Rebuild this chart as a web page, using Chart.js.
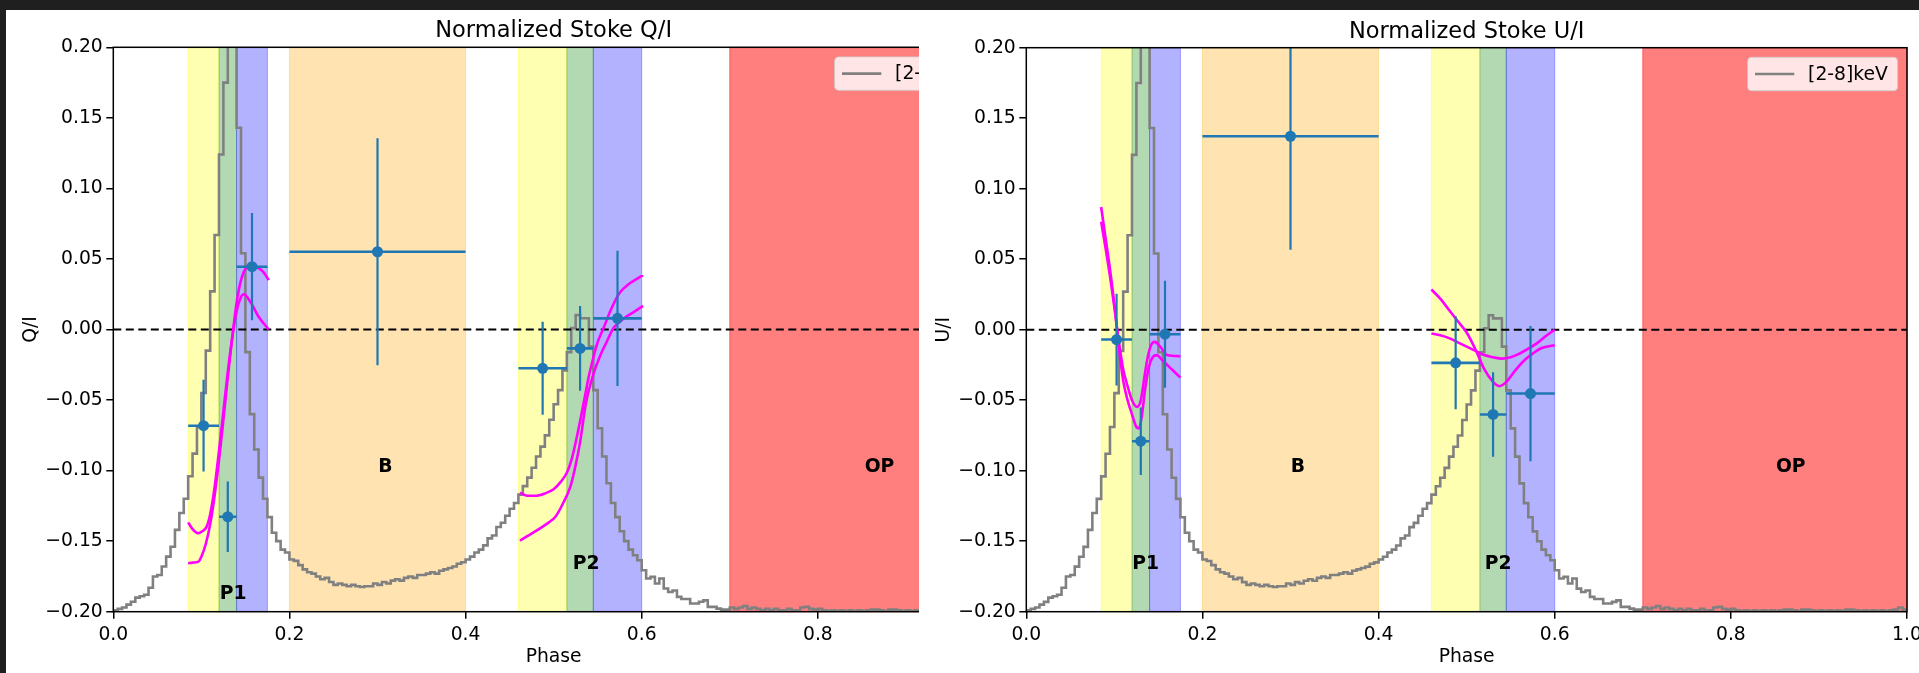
<!DOCTYPE html>
<html>
<head>
<meta charset="utf-8">
<script src="https://cdn.jsdelivr.net/npm/chart.js@4.4.1/dist/chart.umd.min.js"></script>
<style>
html, body { margin: 0; padding: 0; background: #1f1f1f; width: 1919px; height: 673px; overflow: hidden; }
.fig { position: absolute; top: 10px; height: 663px; overflow: hidden; background: #fff; }
#figQ { left: 6px; width: 913px; }
#figU { left: 919px; width: 1000px; }
canvas { position: absolute; left: 0; top: 0; }
</style>
</head>
<body>
<div class="fig" id="figQ"><canvas id="chartQ" width="1080" height="663"></canvas></div>
<div class="fig" id="figU"><canvas id="chartU" width="1080" height="663"></canvas></div>
<script>
// pulse profile [2-8] keV, 200 bins of 0.005 in phase, scaled to the Stokes axis
const binWidth = 0.005;
const profile = [
  -0.199, -0.198, -0.197, -0.195, -0.193, -0.190, -0.189, -0.188, -0.183, -0.175,
  -0.174, -0.168, -0.161, -0.154, -0.142, -0.130, -0.120, -0.104, -0.088, -0.069,
  -0.045, -0.015, 0.027, 0.067, 0.124, 0.175, 0.26, 0.24, 0.143, 0.054,
  -0.016, -0.060, -0.085, -0.105, -0.120, -0.133, -0.144, -0.150, -0.156, -0.158,
  -0.163, -0.164, -0.167, -0.170, -0.172, -0.173, -0.175, -0.177, -0.176, -0.179,
  -0.181, -0.180, -0.181, -0.182, -0.181, -0.182, -0.1825, -0.182, -0.182, -0.180,
  -0.181, -0.179, -0.180, -0.178, -0.177, -0.178, -0.176, -0.175, -0.176, -0.174,
  -0.174, -0.173, -0.172, -0.173, -0.171, -0.170, -0.169, -0.168, -0.166, -0.165,
  -0.163, -0.161, -0.158, -0.156, -0.153, -0.148, -0.146, -0.140, -0.137, -0.132,
  -0.127, -0.123, -0.117, -0.111, -0.105, -0.098, -0.090, -0.083, -0.075, -0.064,
  -0.053, -0.043, -0.029, -0.016, 0.001, 0.0103, 0.008, 0.008, -0.012, -0.043,
  -0.070, -0.090, -0.109, -0.123, -0.133, -0.143, -0.150, -0.156, -0.160, -0.1635,
  -0.1706, -0.1765, -0.1753, -0.180, -0.1765, -0.1836, -0.186, -0.185, -0.1895, -0.191,
  -0.191, -0.1942, -0.1942, -0.193, -0.192, -0.1966, -0.1966, -0.1978, -0.1985, -0.1985,
  -0.197, -0.198, -0.197, -0.196, -0.198, -0.197, -0.198, -0.199, -0.198, -0.199,
  -0.198, -0.199, -0.199, -0.198, -0.199, -0.199, -0.197, -0.1965, -0.198, -0.1985,
  -0.198, -0.199, -0.1995, -0.199, -0.1995, -0.199, -0.1995, -0.199, -0.1995, -0.199,
  -0.1995, -0.199, -0.1985, -0.1985, -0.199, -0.1995, -0.1985, -0.1985, -0.199, -0.1995,
  -0.199, -0.1995, -0.199, -0.1995, -0.199, -0.1995, -0.1985, -0.1985, -0.199, -0.1995,
  -0.199, -0.1995, -0.199, -0.1995, -0.199, -0.1995, -0.199, -0.1985, -0.197, -0.1985
];

// phase intervals: P1 (rise, peak, fall), B, P2 (rise, peak, fall), OP
const bandStart = [0.085, 0.12, 0.14, 0.2, 0.46, 0.515, 0.545, 0.7];
const bandEnd   = [0.12, 0.14, 0.175, 0.4, 0.515, 0.545, 0.6, 1.0];
const bandColor = ['rgba(255,255,0,0.3)', 'rgba(0,128,0,0.3)', 'rgba(0,0,255,0.3)', 'rgba(255,165,0,0.3)',
                   'rgba(255,255,0,0.3)', 'rgba(0,128,0,0.3)', 'rgba(0,0,255,0.3)', 'rgba(255,0,0,0.5)'];

// measured Stokes parameters per interval
const binPhase = [0.1025, 0.13, 0.1575, 0.30, 0.4875, 0.53, 0.5725];
const binHalf  = [0.0175, 0.01, 0.0175, 0.10, 0.0275, 0.015, 0.0275];
const qVal = [-0.0682, -0.1327, 0.0445, 0.0551, -0.0275, -0.0134, 0.0079];
const qErr = [0.0325, 0.025, 0.038, 0.0805, 0.033, 0.030, 0.048];
const uVal = [-0.0070, -0.0791, -0.0032, 0.1372, -0.0235, -0.0601, -0.0453];
const uErr = [0.0325, 0.024, 0.038, 0.0805, 0.033, 0.030, 0.048];

// model curves (magenta)
const qFitAx = [0.085, 0.09, 0.096, 0.101, 0.106, 0.11, 0.115, 0.12, 0.125, 0.13, 0.135, 0.14, 0.145, 0.148, 0.152, 0.158, 0.165, 0.1765];
const qFitA  = [-0.1367, -0.1415, -0.1444, -0.143, -0.1397, -0.131, -0.112, -0.086, -0.058, -0.03, -0.006, 0.013, 0.023, 0.025, 0.023, 0.017, 0.009, 0.0];
const qFitBx = [0.085, 0.09, 0.0968, 0.1, 0.105, 0.11, 0.115, 0.12, 0.125, 0.13, 0.135, 0.14, 0.145, 0.15, 0.1575, 0.165, 0.17, 0.1765];
const qFitB  = [-0.1657, -0.1652, -0.1645, -0.161, -0.152, -0.138, -0.118, -0.093, -0.064, -0.034, -0.006, 0.019, 0.035, 0.043, 0.0457, 0.0435, 0.041, 0.035];
const qFitCx = [0.4618, 0.47, 0.48, 0.49, 0.5, 0.508, 0.515, 0.52, 0.525, 0.53, 0.535, 0.54, 0.545, 0.55, 0.556, 0.565, 0.575, 0.585, 0.595, 0.6015];
const qFitC  = [-0.1157, -0.1178, -0.1178, -0.1162, -0.1132, -0.108, -0.1015, -0.093, -0.08, -0.065, -0.049, -0.033, -0.02, -0.009, 0.0, 0.014, 0.026, 0.032, 0.036, 0.0386];
const qFitDx = [0.4618, 0.47, 0.4845, 0.495, 0.502, 0.51, 0.519, 0.525, 0.53, 0.5367, 0.545, 0.554, 0.56, 0.568, 0.58, 0.59, 0.6015];
const qFitD  = [-0.1497, -0.1465, -0.1409, -0.1365, -0.1327, -0.124, -0.1114, -0.096, -0.08, -0.0523, -0.032, -0.0169, -0.009, 0.001, 0.008, 0.012, 0.0167];

const uFitEx = [0.085, 0.09, 0.095, 0.1, 0.105, 0.11, 0.115, 0.12, 0.125, 0.128, 0.131, 0.135, 0.139, 0.143, 0.148, 0.155, 0.165, 0.175];
const uFitE  = [0.087, 0.065, 0.043, 0.018, -0.012, -0.036, -0.05, -0.06, -0.069, -0.070, -0.062, -0.042, -0.027, -0.02, -0.018, -0.022, -0.028, -0.034];
const uFitFx = [0.085, 0.09, 0.095, 0.1, 0.105, 0.11, 0.115, 0.12, 0.1256, 0.13, 0.134, 0.138, 0.142, 0.146, 0.152, 0.16, 0.175];
const uFitF  = [0.0765, 0.058, 0.038, 0.016, -0.008, -0.028, -0.04, -0.05, -0.0547, -0.05, -0.034, -0.019, -0.0105, -0.0086, -0.012, -0.018, -0.0188];
const uFitGx = [0.46, 0.47, 0.48, 0.49, 0.5, 0.51, 0.52, 0.53, 0.54, 0.55, 0.56, 0.57, 0.58, 0.59, 0.6];
const uFitG  = [-0.0027, -0.004, -0.006, -0.009, -0.012, -0.015, -0.018, -0.0195, -0.0205, -0.0195, -0.017, -0.0135, -0.0095, -0.0045, 0.0];
const uFitHx = [0.46, 0.47, 0.48, 0.49, 0.5, 0.51, 0.52, 0.53, 0.537, 0.545, 0.555, 0.565, 0.575, 0.585, 0.6];
const uFitH  = [0.0285, 0.022, 0.014, 0.006, -0.002, -0.014, -0.028, -0.037, -0.040, -0.037, -0.029, -0.022, -0.017, -0.013, -0.011];

const regionNames = ['P1', 'B', 'P2', 'OP'];
const qRegionX = [0.136, 0.309, 0.537, 0.87];
const qRegionY = [-0.186, -0.096, -0.165, -0.096];
const uRegionX = [0.1354, 0.3083, 0.5357, 0.868];
const uRegionY = [-0.165, -0.096, -0.165, -0.096];

const FONT = 'DejaVu Sans';
Chart.defaults.font.family = FONT;
Chart.defaults.font.size = 18.75;
Chart.defaults.color = '#000';

const toXY = (xs, ys) => xs.map((x, i) => ({ x, y: ys[i] }));

function profileData() {
  const d = profile.map((v, i) => ({ x: i * binWidth, y: v }));
  d.push({ x: 1, y: profile[profile.length - 1] });
  return d;
}

function errorBars(ys, errs) {
  const vert = [], horiz = [];
  binPhase.forEach((x, i) => {
    vert.push({ x, y: ys[i] - errs[i] }, { x, y: ys[i] + errs[i] }, { x, y: null });
    horiz.push({ x: x - binHalf[i], y: ys[i] }, { x: x + binHalf[i], y: ys[i] }, { x, y: null });
  });
  return [vert, horiz];
}

const figure = {
  id: 'figure',
  beforeDatasetsDraw(chart, args, opts) {
    const { ctx, chartArea: a, scales: { x } } = chart;
    ctx.save();
    bandStart.forEach((s, i) => {
      const x0 = x.getPixelForValue(s), x1 = x.getPixelForValue(bandEnd[i]);
      ctx.fillStyle = bandColor[i];
      ctx.strokeStyle = bandColor[i];
      ctx.lineWidth = 1;
      ctx.fillRect(x0, a.top, x1 - x0, a.bottom - a.top);
      ctx.strokeRect(x0, a.top, x1 - x0, a.bottom - a.top);
    });
    ctx.restore();
  },
  afterDatasetsDraw(chart, args, opts) {
    const { ctx, chartArea: a, scales: { x, y } } = chart;
    ctx.save();
    // spines
    ctx.strokeStyle = '#000';
    ctx.lineWidth = 1.5;
    ctx.strokeRect(a.left, a.top, a.right - a.left, a.bottom - a.top);
    // region names
    ctx.font = 'bold 18.75px ' + FONT;
    ctx.textAlign = 'center';
    ctx.textBaseline = 'alphabetic';
    ctx.fillStyle = '#000';
    regionNames.forEach((t, i) => {
      ctx.fillText(t, x.getPixelForValue(opts.regionX[i]), y.getPixelForValue(opts.regionY[i]) + 6.8);
    });
    ctx.restore();
  },
  afterDraw(chart, args, opts) {
    const { ctx, chartArea: a } = chart;
    const cx = (a.left + a.right) / 2, cy = (a.top + a.bottom) / 2;
    ctx.save();
    ctx.fillStyle = '#000';
    ctx.textAlign = 'center';
    ctx.textBaseline = 'alphabetic';
    ctx.font = '22.5px ' + FONT;
    ctx.fillText(opts.title, cx, a.top - 10);
    ctx.font = '18.75px ' + FONT;
    ctx.fillText('Phase', cx, a.bottom + 50);
    ctx.translate(a.left - 77.5, cy);
    ctx.rotate(-Math.PI / 2);
    ctx.fillText(opts.ylabel, 0, 0);
    ctx.restore();

    // legend
    ctx.save();
    const w = 150, h = 33.4;
    const lx = a.right - 9.4 - w, ly = a.top + 9.6;
    ctx.beginPath();
    ctx.roundRect(lx, ly, w, h, 4);
    ctx.fillStyle = 'rgba(255,255,255,0.8)';
    ctx.fill();
    ctx.strokeStyle = 'rgba(204,204,204,0.8)';
    ctx.lineWidth = 1;
    ctx.stroke();
    ctx.beginPath();
    ctx.moveTo(lx + 7.4, ly + h / 2);
    ctx.lineTo(lx + 46.7, ly + h / 2);
    ctx.strokeStyle = 'gray';
    ctx.lineWidth = 2.6;
    ctx.stroke();
    ctx.fillStyle = '#000';
    ctx.font = '18.75px ' + FONT;
    ctx.textBaseline = 'middle';
    ctx.fillText('[2-8]keV', lx + 60.5, ly + h / 2 + 1);
    ctx.restore();
  }
};

function makePanel(canvasId, title, ylabel, vals, errs, fits, regionX, regionY, plotTop) {
  const [vert, horiz] = errorBars(vals, errs);
  const fitSets = fits.map(f => ({
    data: toXY(f[0], f[1]), borderColor: '#ff00ff', borderWidth: 2.6,
    pointRadius: 0, cubicInterpolationMode: 'monotone', order: 3
  }));
  return new Chart(document.getElementById(canvasId), {
    type: 'line',
    data: {
      datasets: [
        { data: profileData(), stepped: 'before', borderColor: 'gray', borderWidth: 2.6, pointRadius: 0, order: 6 },
        { data: [{ x: 0, y: 0 }, { x: 1, y: 0 }], borderColor: '#000', borderWidth: 2, borderDash: [8, 4.5], pointRadius: 0, order: 5 },
        ...fitSets,
        { data: vert, borderColor: '#1f77b4', borderWidth: 2.2, pointRadius: 0, order: 2 },
        { data: horiz, borderColor: '#1f77b4', borderWidth: 2.6, pointRadius: 0, order: 2 },
        { data: toXY(binPhase, vals), showLine: false, pointRadius: 5.5, pointBackgroundColor: '#1f77b4',
          pointBorderWidth: 0, order: 1 }
      ]
    },
    options: {
      responsive: false,
      animation: false,
      events: [],
      layout: { padding: { left: 0, right: 1080 - 988, top: plotTop, bottom: 0 } },
      plugins: {
        legend: { display: false },
        tooltip: { enabled: false },
        figure: { title, ylabel, regionX, regionY }
      },
      scales: {
        x: {
          type: 'linear', min: 0, max: 1,
          ticks: { stepSize: 0.2, padding: 5, maxRotation: 0, autoSkip: false,
                   callback: v => v.toFixed(1) },
          grid: { drawOnChartArea: false, tickLength: 7, color: '#000', lineWidth: 1.5 },
          border: { display: false },
          afterFit: s => { s.height = 663 - 601.7; }
        },
        y: {
          type: 'linear', min: -0.2, max: 0.2,
          ticks: { stepSize: 0.05, padding: 3.5,
                   callback: v => { const r = Math.round(v * 100) / 100; return (r < 0 ? '\u2212' : '') + Math.abs(r).toFixed(2); } },
          grid: { drawOnChartArea: false, tickLength: 7, color: '#000', lineWidth: 1.5 },
          border: { display: false },
          afterFit: s => { s.width = 107.3; }
        }
      }
    },
    plugins: [figure]
  });
}

makePanel('chartQ', 'Normalized Stoke Q/I', 'Q/I', qVal, qErr,
  [[qFitAx, qFitA], [qFitBx, qFitB], [qFitCx, qFitC], [qFitDx, qFitD]], qRegionX, qRegionY, 37.3);
makePanel('chartU', 'Normalized Stoke U/I', 'U/I', uVal, uErr,
  [[uFitEx, uFitE], [uFitFx, uFitF], [uFitGx, uFitG], [uFitHx, uFitH]], uRegionX, uRegionY, 37.7);
</script>
</body>
</html>
